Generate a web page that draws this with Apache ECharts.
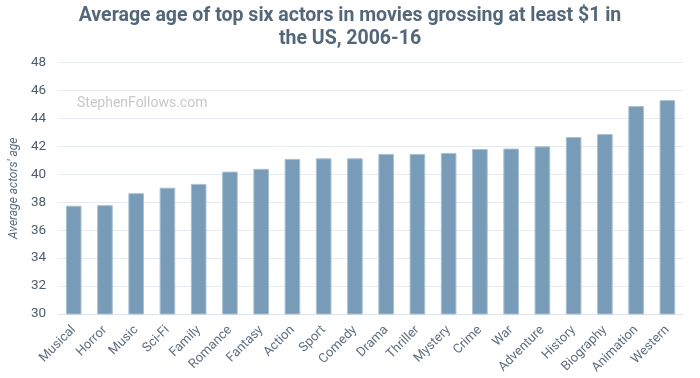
<!DOCTYPE html>
<html><head><meta charset="utf-8">
<script src="https://cdn.jsdelivr.net/npm/echarts@6/dist/echarts.min.js"></script>
<style>html,body{margin:0;padding:0;background:#fff}#c{width:700px;height:378px}</style>
</head><body><div id="c"></div>
<script>
var categories = ["Musical","Horror","Music","Sci-Fi","Family","Romance","Fantasy","Action","Sport","Comedy","Drama","Thriller","Mystery","Crime","War","Adventure","History","Biography","Animation","Western"];
var avgAge = [37.75,37.79,38.65,39.04,39.31,40.19,40.39,41.10,41.14,41.14,41.46,41.46,41.53,41.81,41.84,42.00,42.67,42.88,44.88,45.31];
var yTicks = {min:30, max:48, interval:2};
var titleText = "Average age of top six actors in movies grossing at least $1 in\nthe US, 2006-16";
var yName = "Average actors' age";
var watermark = "StephenFollows.com";

var chart = echarts.init(document.getElementById('c'), null, {renderer:'canvas'});
chart.setOption({
  animation:false,
  backgroundColor:'#fff',
  title:{text:titleText,left:'center',top:0,textStyle:{fontFamily:'Roboto',fontWeight:'bold',fontSize:19.5,color:'#54677a',lineHeight:23}},
  graphic:[{type:'text',left:77,top:96,style:{text:watermark,fontFamily:'Roboto',fontSize:14,fill:'#c8c8c8'}}],
  grid:{left:52,right:17,top:62.5,bottom:64},
  xAxis:{type:'category',data:categories,
    axisLine:{show:true,lineStyle:{color:'#dde3ec'}},axisTick:{show:false},
    axisLabel:{rotate:45,interval:0,fontFamily:'Roboto',fontSize:13,color:'#5f6f80',margin:14}},
  yAxis:{type:'value',min:yTicks.min,max:yTicks.max,interval:yTicks.interval,
    name:yName,nameLocation:'middle',nameGap:30,nameRotate:90,
    nameTextStyle:{fontFamily:'Roboto',fontStyle:'italic',fontSize:12,color:'#5b6b7b'},
    axisLine:{show:false},axisTick:{show:false},
    axisLabel:{fontFamily:'Roboto',fontSize:13.5,color:'#4e5d6c',margin:12},
    splitLine:{lineStyle:{color:'#e6ebf2',width:1}}},
  series:[{type:'bar',data:avgAge,barWidth:'50%',
    itemStyle:{color:'#789cb8',borderColor:'#a9c0d3',borderWidth:1}}]
});
</script></body></html>
